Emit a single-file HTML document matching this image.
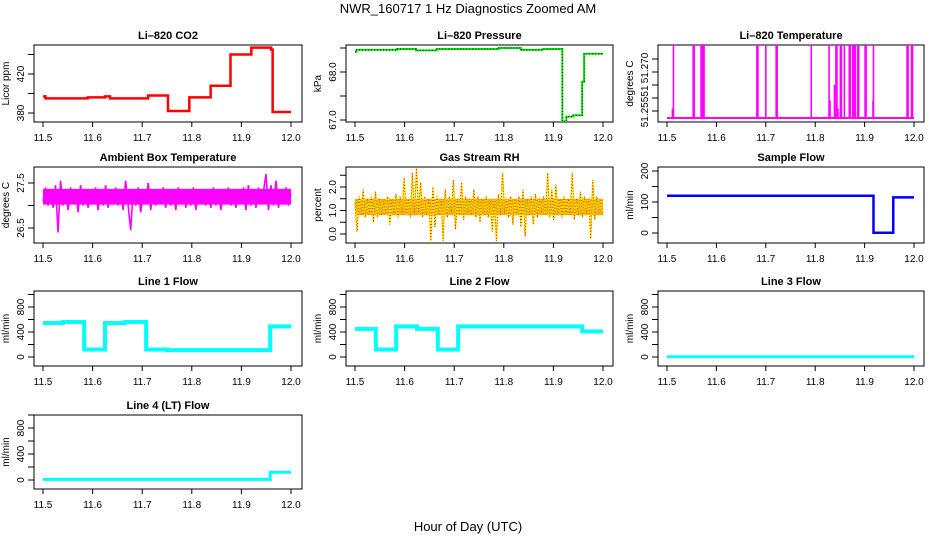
<!DOCTYPE html>
<html><head><meta charset="utf-8">
<style>
html,body{margin:0;padding:0;background:#fff;}
svg{display:block;font-family:"Liberation Sans",sans-serif;}
</style></head>
<body>
<svg id="c" width="936" height="540" viewBox="0 0 936 540" xmlns="http://www.w3.org/2000/svg">
<text x="468" y="13" text-anchor="middle" font-size="13">NWR_160717  1 Hz Diagnostics Zoomed AM</text>
<text x="468" y="531" text-anchor="middle" font-size="13">Hour of Day (UTC)</text>
</svg>
<script>
// ---- data ----
const xTicks = [11.5, 11.6, 11.7, 11.8, 11.9, 12.0];
const xTickLabels = ["11.5", "11.6", "11.7", "11.8", "11.9", "12.0"];
const co2Times = [11.5, 11.505, 11.59, 11.625, 11.635, 11.712, 11.752, 11.795, 11.838, 11.878, 11.92, 11.96, 11.963, 12.0];
const co2Values = [397, 395, 396, 397, 395, 398, 382, 396, 408, 440, 447, 445, 381, 381];
const presTimes = [11.5, 11.503, 11.585, 11.623, 11.665, 11.79, 11.835, 11.878, 11.918, 11.926, 11.94, 11.958, 11.962, 12.0];
const presValues = [68.42, 68.46, 68.48, 68.45, 68.48, 68.5, 68.46, 68.48, 66.97, 67.07, 67.1, 67.8, 68.38, 68.38];
const sampleTimes = [11.5, 11.918, 11.958, 12.0];
const sampleValues = [120, 1, 115, 115];
const line1Times = [11.5, 11.54, 11.583, 11.625, 11.665, 11.708, 11.75, 11.958, 12.0];
const line1Values = [545, 560, 120, 545, 560, 120, 110, 490, 490];
const line2Times = [11.5, 11.542, 11.583, 11.625, 11.667, 11.708, 11.958, 12.0];
const line2Values = [450, 120, 490, 450, 120, 490, 410, 410];
const line3Times = [11.5, 12.0];
const line3Values = [5, 5];
const line4Times = [11.5, 11.958, 12.0];
const line4Values = [10, 120, 120];
const ltBase = 51.2523;
const ltSpikeTimes = [11.511, 11.513, 11.553, 11.555, 11.569, 11.571, 11.573, 11.575, 11.682, 11.684, 11.700, 11.721, 11.723, 11.792, 11.828, 11.830, 11.839, 11.842, 11.844, 11.846, 11.851, 11.853, 11.859, 11.869, 11.871, 11.876, 11.879, 11.881, 11.886, 11.888, 11.901, 11.903, 11.917, 11.918, 11.986, 11.988, 11.995, 11.997];
const ltSpikeValues = [51.256, 51.29, 51.29, 51.29, 51.29, 51.29, 51.29, 51.29, 51.29, 51.29, 51.29, 51.29, 51.29, 51.29, 51.29, 51.259, 51.265, 51.29, 51.29, 51.256, 51.29, 51.29, 51.29, 51.29, 51.29, 51.29, 51.29, 51.29, 51.29, 51.29, 51.29, 51.29, 51.259, 51.29, 51.29, 51.29, 51.29, 51.29];
const ambValues = [27.1,27.4,27.0,27.35,26.95,27.45,26.4,27.55,27.0,27.35,26.9,27.4,27.05,27.3,26.85,27.45,27.0,27.35,26.95,27.3,27.05,27.4,26.9,27.35,27.0,27.45,26.95,27.3,27.05,27.4,27.0,27.3,26.9,27.55,27.0,26.45,27.35,27.0,27.4,26.85,27.3,27.05,27.5,26.9,27.35,27.0,27.3,27.05,27.4,26.95,27.3,27.0,27.35,26.9,27.4,27.05,27.3,26.95,27.35,27.0,27.4,26.9,27.3,27.05,27.35,27.0,27.3,26.95,27.4,27.0,27.35,26.9,27.3,27.05,27.4,27.0,27.35,26.95,27.3,27.05,27.4,26.9,27.45,27.0,27.35,26.95,27.4,27.05,27.3,27.7,26.9,27.45,27.0,27.55,26.95,27.3,27.1,27.4,27.0,27.25];
const rhValues = [1.3,0.1,1.6,0.8,1.9,0.7,1.5,0.9,1.6,0.5,1.8,0.7,1.5,0.8,1.4,0.9,1.6,0.4,1.5,0.8,1.7,0.7,1.6,0.9,2.4,0.8,1.5,0.7,2.6,0.8,2.8,0.9,2.2,0.7,1.6,0.8,1.5,-0.3,2.0,0.3,1.6,0.8,1.5,-0.3,1.9,0.7,1.6,0.9,2.3,0.2,1.5,0.8,2.2,0.6,1.6,0.9,1.5,0.8,1.9,0.7,1.6,0.5,1.5,0.8,1.6,0.7,1.4,0.1,1.5,-0.3,1.7,0.8,2.6,0.9,1.5,0.7,1.6,0.4,1.5,0.8,1.6,0.3,1.9,-0.1,1.5,0.8,1.6,0.4,1.7,0.7,1.5,0.9,1.6,0.8,2.6,0.7,1.9,0.6,2.1,0.8,1.5,0.7,1.6,0.9,1.5,0.8,2.6,0.6,1.5,0.8,1.8,0.7,1.6,0.9,1.5,-0.2,2.3,0.6,1.6,0.9,1.5,0.8];

// ---- layout ----
const svg = document.getElementById('c');
const NS = 'http://www.w3.org/2000/svg';
const cols = [{l:34,r:302,x0:43,x1:291},{l:346,r:613,x0:355,x1:603},{l:658,r:924,x0:667,x1:914}];
const rows = [{t:45,b:122},{t:167,b:243},{t:291,b:366},{t:415,b:489}];
function mk(tag, attrs, parent){const e=document.createElementNS(NS,tag);for(const k in attrs)e.setAttribute(k,attrs[k]);(parent||svg).appendChild(e);return e;}
function vlabel(g,x,y,txt){const tl=mk('text',{x:x,y:y,'text-anchor':'middle','font-size':10,transform:`rotate(-90 ${x} ${y})`},g);tl.textContent=txt;return tl;}
function panel(name, title, ci, ri, yA, yB, yTicks, yLabels, yTitle){
  const c=cols[ci], r=rows[ri];
  const g=mk('g',{});
  
  
  const xs=v=>c.x0+(v-11.5)/0.5*(c.x1-c.x0);
  const ys=v=>yA.py+(v-yA.v)/(yB.v-yA.v)*(yB.py-yA.py);
  const t=mk('text',{x:(c.l+c.r)/2,y:r.t-6,'text-anchor':'middle','font-size':11,'font-weight':'bold'},g);
  t.textContent=title;
  
  
  const box=mk('rect',{x:c.l,y:r.t,width:c.r-c.l,height:r.b-r.t,fill:'none',stroke:'#000','stroke-width':1},g);
  
  
  const xg=mk('g',{},g);
  
  
  xTicks.forEach((v,i)=>{const x=xs(v);mk('line',{x1:x,x2:x,y1:r.b,y2:r.b+5,stroke:'#000'},xg);
    const tl=mk('text',{x:x,y:r.b+19,'text-anchor':'middle','font-size':10},xg);tl.textContent=xTickLabels[i];});
  const yg=mk('g',{},g);
  
  
  yTicks.forEach((v,i)=>{const y=ys(v);if(y<r.t-1||y>r.b+1)return;mk('line',{x1:c.l-6,x2:c.l,y1:y,y2:y,stroke:'#000'},yg);
    if(yLabels[i]){vlabel(yg,c.l-10,y,yLabels[i]);}});
  const yt=mk('text',{x:c.l-25,y:(r.t+r.b)/2,'text-anchor':'middle','font-size':10,transform:`rotate(-90 ${c.l-25} ${(r.t+r.b)/2})`},g);
  yt.textContent=yTitle;
  
  
  const cid='clip'+name;
  const cp=mk('clipPath',{id:cid},g);mk('rect',{x:c.l,y:r.t,width:c.r-c.l,height:r.b-r.t},cp);
  const dg=mk('g',{'clip-path':`url(#${cid})`},g);
  return {xs,ys,dg,yg,c,r};
}
function step(p, times, vals, color, w, name){
  let d='';
  times.forEach((t,i)=>{const x=p.xs(t),y=p.ys(vals[i]);d+=(i?`H${x}V${y}`:`M${x},${y}`);});
  const e=mk('path',{d:d,fill:'none',stroke:color,'stroke-width':w},p.dg);
  
  
  return e;
}
function noisy(p, vals, color, w, name){
  const n=vals.length;
  const pts=vals.map((v,i)=>`${p.xs(11.5+i*0.5/(n-1))},${p.ys(v)}`).join(' ');
  const e=mk('polyline',{points:pts,fill:'none',stroke:color,'stroke-width':w},p.dg);
  
  
  return e;
}

// CO2
let p=panel('co2','Li\u2013820 CO2',0,0,{v:380,py:113},{v:420,py:74},[380,400,420,440],['380','','420',''],'Licor ppm');
step(p,co2Times,co2Values,'#ff0000',2.5,'co2-line');
// Pressure
p=panel('pressure','Li\u2013820 Pressure',1,0,{v:67,py:120},{v:68,py:72},[67,67.5,68,68.5],['67.0','','68.0',''],'kPa');
step(p,presTimes,presValues,'#00ee00',2,'pressure-line');
step(p,presTimes,presValues,'#000',1,'pressure-points').setAttribute('stroke-dasharray','1 2');
// Li-820 temperature
p=panel('li820-temp','Li\u2013820 Temperature',2,0,{v:51.255,py:111},{v:51.27,py:72},[51.25,51.255,51.26,51.265,51.27,51.275],['','','','','',''],'degrees C');
vlabel(p.yg,p.c.l-10,112,'51.255');
vlabel(p.yg,p.c.l-10,91,'51');
vlabel(p.yg,p.c.l-10,68,'51.270');
{const base=mk('line',{x1:p.xs(11.5),x2:p.xs(12.0),y1:p.ys(ltBase),y2:p.ys(ltBase),stroke:'#ff00ff','stroke-width':2},p.dg);
 
 
 ltSpikeTimes.forEach((t,i)=>{const s=mk('line',{x1:p.xs(t),x2:p.xs(t),y1:p.ys(ltBase),y2:p.ys(ltSpikeValues[i]),stroke:'#ff00ff','stroke-width':1.6},p.dg);
  
  });}
// Ambient
p=panel('ambient','Ambient Box Temperature',0,1,{v:26.5,py:228},{v:27.5,py:183},[26.5,27.0,27.5],['26.5','','27.5'],'degrees C');
mk('rect',{x:p.xs(11.5),y:p.ys(27.37),width:p.xs(12)-p.xs(11.5),height:p.ys(27.02)-p.ys(27.37),fill:'#ff00ff'},p.dg);
noisy(p,ambValues,'#ff00ff',1.6,'ambient-line');
// RH
p=panel('rh','Gas Stream RH',1,1,{v:0,py:234},{v:2,py:187},[0,0.5,1,1.5,2,2.5],['0.0','','1.0','','2.0',''],'percent');
mk('rect',{x:p.xs(11.5),y:p.ys(1.5),width:p.xs(12)-p.xs(11.5),height:p.ys(0.8)-p.ys(1.5),fill:'#f0b000'},p.dg);
noisy(p,rhValues,'#ffee00',1.4,'rh-line');
noisy(p,rhValues,'#e02000',1,'rh-points').setAttribute('stroke-dasharray','1 2');
// Sample flow
p=panel('sample-flow','Sample Flow',2,1,{v:0,py:233},{v:200,py:171},[0,50,100,150,200],['0','','100','','200'],'ml/min');
step(p,sampleTimes,sampleValues,'#0000ff',2.5,'sample-flow-line');
// Line flows
const fl1={v:0,py:357},fl2={v:800,py:307};
const lft=[-200,0,200,400,600,800,1000],lfl=['','0','','400','','800',''];
p=panel('line1-flow','Line 1 Flow',0,2,fl1,fl2,lft,lfl,'ml/min');
step(p,line1Times,line1Values,'#00ffff',4,'line1-flow-line');
p=panel('line2-flow','Line 2 Flow',1,2,fl1,fl2,lft,lfl,'ml/min');
step(p,line2Times,line2Values,'#00ffff',4,'line2-flow-line');
p=panel('line3-flow','Line 3 Flow',2,2,{v:0,py:357},{v:800,py:307},lft,lfl,'ml/min');
step(p,line3Times,line3Values,'#00ffff',3,'line3-flow-line');
p=panel('line4-flow','Line 4 (LT) Flow',0,3,{v:0,py:480},{v:800,py:428},lft,lfl,'ml/min');
step(p,line4Times,line4Values,'#00ffff',3,'line4-flow-line');
</script>
</body></html>
